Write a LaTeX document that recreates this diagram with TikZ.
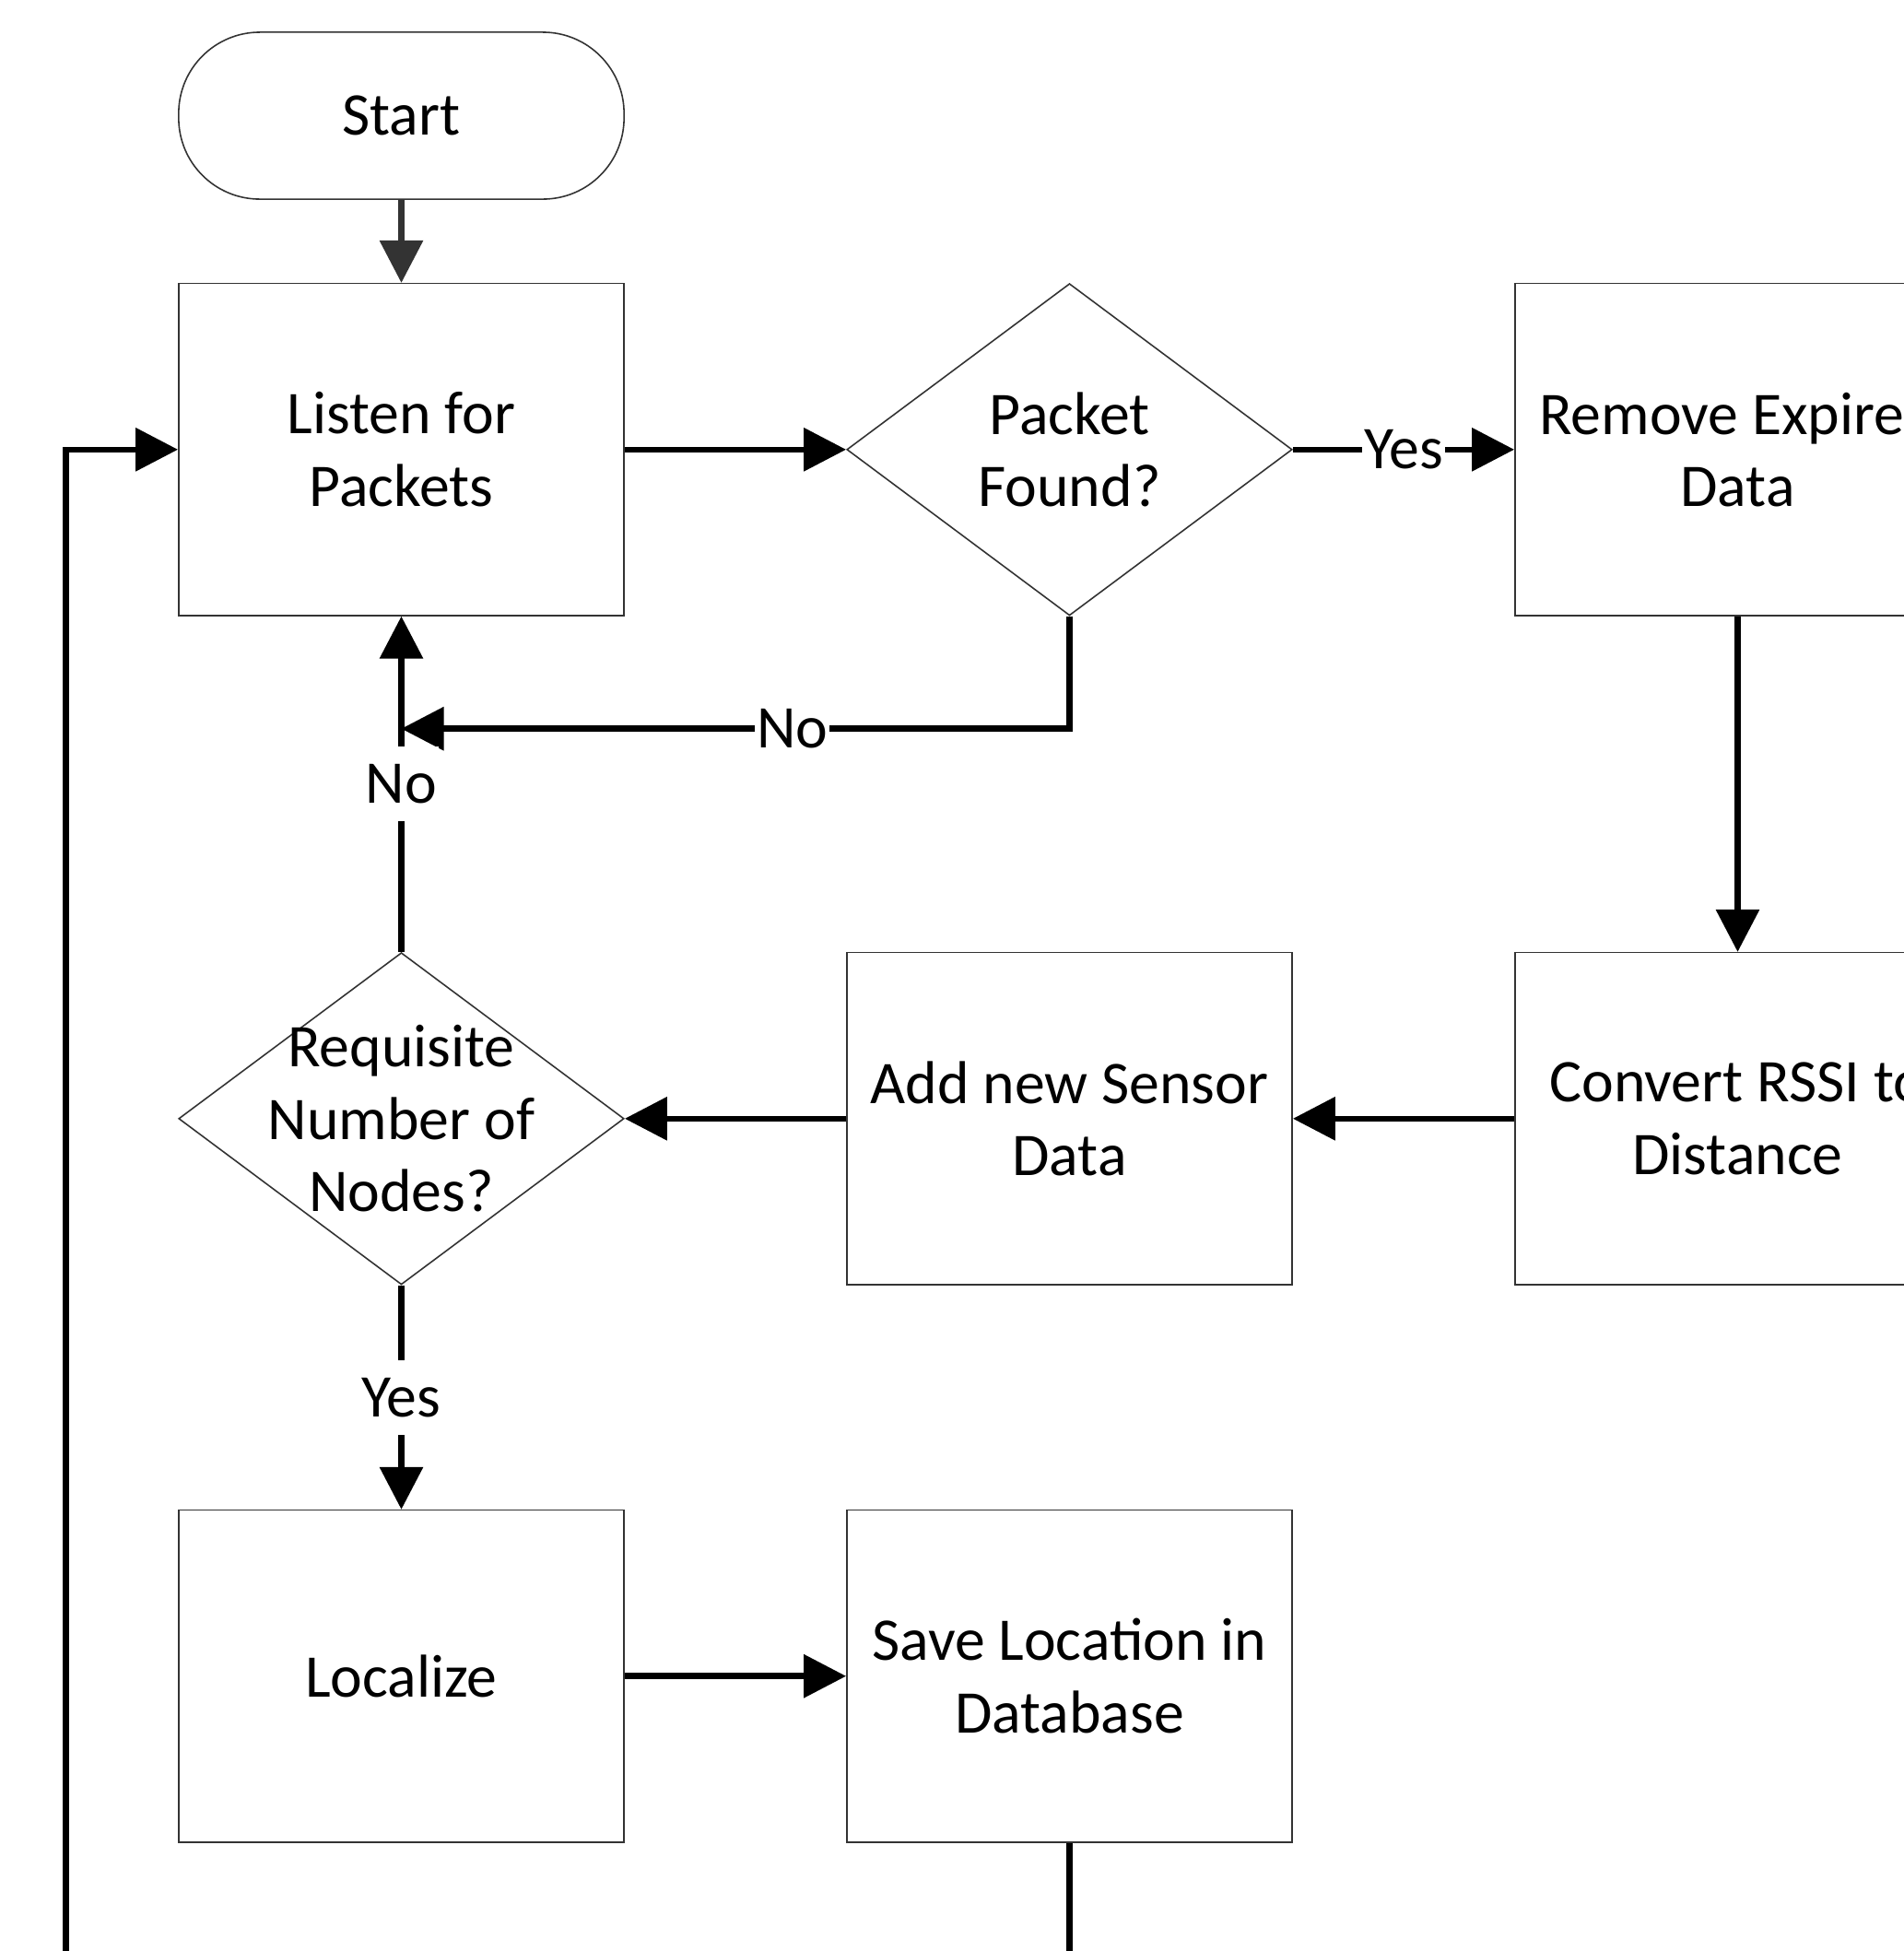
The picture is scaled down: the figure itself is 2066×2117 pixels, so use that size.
\documentclass[tikz,border=0pt]{standalone}
\usepackage{fontspec}
\setmainfont{Carlito}
\usetikzlibrary{positioning,arrows.meta,shapes.geometric}
\definecolor{fcline}{HTML}{333333}

\begin{document}
\begin{tikzpicture}[
  x=0.01cm, y=0.01cm,
  node distance=2.4cm and 2.4cm,
  box/.style={draw=fcline, line width=0.45pt, minimum width=4.83cm, minimum height=3.6cm, align=center, font=\fontsize{18.7}{22.4}\selectfont},
  term/.style={box, minimum height=1.81cm, rounded corners=0.88cm},
  decide/.style={draw=fcline, line width=0.45pt, diamond, minimum width=4.83cm, minimum height=3.6cm, inner sep=0pt},
  dtext/.style={align=center, font=\fontsize{18.7}{22.4}\selectfont},
  arr/.style={-{Triangle[length=0.46cm, width=0.46cm]}, line width=1.85pt, draw=black},
  lbl/.style={fill=white, inner xsep=0.5pt, inner ysep=5.5pt, font=\fontsize{18.7}{22.4}\selectfont}
]
\useasboundingbox (0,0) rectangle (2066,-2117);
\clip (0,0) rectangle (2066,-2117);
\node[term] (start) at (435.5,-125.5) {Start};
\node[box, below=0.9cm of start] (listen) {Listen for\\Packets};
\node[decide, right=of listen, label={[dtext]center:{Packet\\Found?}}] (found) {};
\node[box, right=2.4cm of found] (remove) {Remove Expired\\Data};
\node[box, below=3.64cm of remove] (convert) {Convert RSSI to\\Distance};
\node[box, left=of convert] (add) {Add new Sensor\\Data};
\node[decide, left=of add, label={[dtext]center:{Requisite\\Number of\\Nodes?}}] (req) {};
\node[box, below=2.43cm of req] (loc) {Localize};
\node[box, right=of loc] (save) {Save Location in\\Database};
\coordinate (back) at (71.6,-2150);
\draw[arr, draw=fcline] (start) -- (listen);
\draw[arr] (listen) -- (found);
\draw[arr] (found) -- node[lbl] {Yes} (remove);
\draw[arr] (found.south) -- ++(0,-122) coordinate (bend) -- node[lbl, pos=0.415] {No} (bend -| listen.south);
\draw[arr] (req) -- node[lbl] {No} (listen);
\draw[arr] (remove) -- (convert);
\draw[arr] (convert) -- (add);
\draw[arr] (add) -- (req);
\draw[arr] (req) -- node[lbl] {Yes} (loc);
\draw[arr] (loc) -- (save);
\draw[arr] (save.south) |- (back) |- (listen.west);
\end{tikzpicture}
\end{document}
